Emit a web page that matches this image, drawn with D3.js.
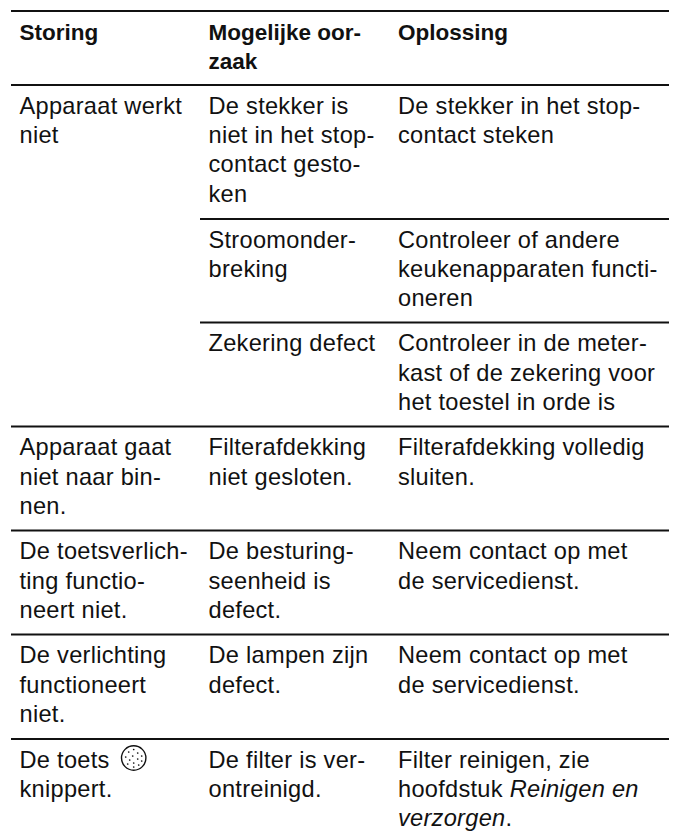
<!DOCTYPE html>
<html>
<head>
<meta charset="utf-8">
<script src="https://cdn.jsdelivr.net/npm/d3@7"></script>
<style>
html, body { margin: 0; padding: 0; background: #fff; }
svg { display: block; }
text { font-family: "Liberation Sans", Arial, sans-serif; font-size: 23.6px; letter-spacing: 0.28px; fill: #111; }
text.head { font-size: 22.5px; letter-spacing: 0; font-weight: bold; }
</style>
</head>
<body>
<div id="chart"></div>
<script>
// kolomkoppen
const headerLines = [['Storing'], ['Mogelijke oor-', 'zaak'], ['Oplossing']]

// rijen
const rowIds = ['head', 'r1', 'r2', 'r3', 'r4', 'r5', 'r6', 'r7']
// rijen waar de lijn alleen over kolom 2 en 3 loopt
const innerRows = ['r2', 'r3']

// cursief staat tussen |...|
const cells = [
    { col: 0, row: 'r1', lines: ['Apparaat werkt', 'niet'] },
    { col: 1, row: 'r1', lines: ['De stekker is', 'niet in het stop-', 'contact gesto-', 'ken'] },
    { col: 2, row: 'r1', lines: ['De stekker in het stop-', 'contact steken'] },
    { col: 1, row: 'r2', lines: ['Stroomonder-', 'breking'] },
    { col: 2, row: 'r2', lines: ['Controleer of andere', 'keukenapparaten functi-', 'oneren'] },
    { col: 1, row: 'r3', lines: ['Zekering defect'] },
    { col: 2, row: 'r3', lines: ['Controleer in de meter-', 'kast of de zekering voor', 'het toestel in orde is'] },
    { col: 0, row: 'r4', lines: ['Apparaat gaat', 'niet naar bin-', 'nen.'] },
    { col: 1, row: 'r4', lines: ['Filterafdekking', 'niet gesloten.'] },
    { col: 2, row: 'r4', lines: ['Filterafdekking volledig', 'sluiten.'] },
    { col: 0, row: 'r5', lines: ['De toetsverlich-', 'ting functio-', 'neert niet.'] },
    { col: 1, row: 'r5', lines: ['De besturing-', 'seenheid is', 'defect.'] },
    { col: 2, row: 'r5', lines: ['Neem contact op met', 'de servicedienst.'] },
    { col: 0, row: 'r6', lines: ['De verlichting', 'functioneert', 'niet.'] },
    { col: 1, row: 'r6', lines: ['De lampen zijn', 'defect.'] },
    { col: 2, row: 'r6', lines: ['Neem contact op met', 'de servicedienst.'] },
    { col: 0, row: 'r7', lines: ['De toets', 'knippert.'] },
    { col: 1, row: 'r7', lines: ['De filter is ver-', 'ontreinigd.'] },
    { col: 2, row: 'r7', lines: ['Filter reinigen, zie', 'hoofdstuk |Reinigen en', '|verzorgen|.'] }
]

// layout
const svg_width = 674
const svg_height = 835
const rule_left = 11
const rule_right = 669
const inner_left = 200
const line_height = 29.3
const first_baseline = 28.8

const svg = d3.select('#chart').append('svg')
    .attr('width', svg_width).attr('height', svg_height)

const xScale = d3.scaleOrdinal().domain([0, 1, 2]).range([19.5, 208.5, 398])
const yScale = d3.scaleOrdinal().domain(rowIds).range([11, 85, 219, 322.5, 426.5, 530.5, 634.5, 739])

// lijnen boven elke rij
svg.selectAll('line.rule').data(rowIds).enter().append('line')
    .attr('class', 'rule')
    .attr('x1', d => innerRows.includes(d) ? inner_left : rule_left)
    .attr('x2', rule_right)
    .attr('y1', d => yScale(d)).attr('y2', d => yScale(d))
    .attr('stroke', '#111').attr('stroke-width', 2)

function drawLine(sel, str) {
    str.split('|').forEach((part, i) => {
        if (part) sel.append('tspan').text(part).style('font-style', i % 2 ? 'italic' : 'normal')
    })
}

headerLines.forEach((lines, col) => {
    svg.selectAll(`text.head-${col}`).data(lines).enter().append('text')
        .attr('class', `head head-${col}`)
        .attr('x', xScale(col))
        .attr('y', (d, i) => yScale('head') + first_baseline + i * line_height)
        .text(d => d)
})

cells.forEach(c => {
    c.lines.forEach((l, i) => {
        svg.append('text')
            .attr('x', xScale(c.col))
            .attr('y', yScale(c.row) + first_baseline + i * line_height)
            .call(drawLine, l)
    })
})

// toets-icoon achter "De toets"
const icon = svg.append('g').attr('transform', `translate(133.7,${yScale('r7') + 19})`)
icon.append('circle').attr('r', 12.2).attr('fill', 'none').attr('stroke', '#111').attr('stroke-width', 1.4)
const iconDots = [[0, -8.5], [-5, -6], [4, -5], [8, -2], [-1, -2], [-8, -1], [4, 1], [-4, 2], [8, 3], [0, 5], [-6, 6], [5, 7], [0, 9]]
icon.selectAll('circle.dot').data(iconDots).enter().append('circle').attr('class', 'dot')
    .attr('cx', d => d[0]).attr('cy', d => d[1]).attr('r', 0.85).attr('fill', '#111')
</script>
</body>
</html>
